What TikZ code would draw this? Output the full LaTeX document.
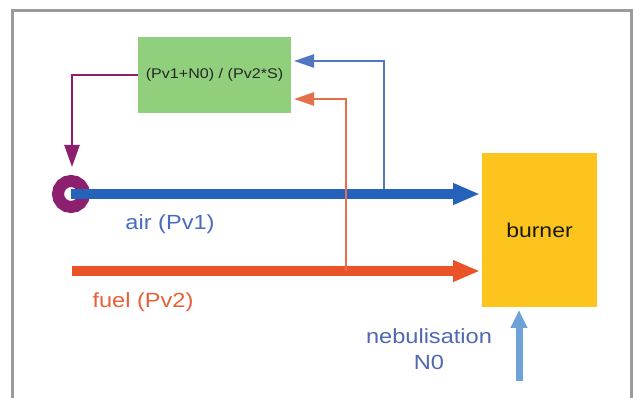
\documentclass[tikz,border=0pt]{standalone}
\usepackage{fontspec}
\setmainfont{Liberation Sans}
\newfontfamily\widesans[FakeStretch=1.15]{Liberation Sans}
\usetikzlibrary{arrows.meta}
\definecolor{framegray}{RGB}{155,155,158}
\definecolor{boxgreen}{RGB}{144,208,124}
\definecolor{burnyellow}{RGB}{252,196,28}
\definecolor{airblue}{RGB}{37,99,186}
\definecolor{fbblue}{RGB}{80,118,196}
\definecolor{fuelorange}{RGB}{234,82,40}
\definecolor{fborange}{RGB}{228,112,76}
\definecolor{ringpurple}{RGB}{140,32,110}
\definecolor{nebblue}{RGB}{110,162,216}
\definecolor{airtext}{RGB}{74,108,190}
\definecolor{fueltext}{RGB}{232,96,56}
\definecolor{nebtext}{RGB}{80,104,176}
\tikzset{
  thinflow/.style={line width=2.5pt,-{Triangle[length=20pt,width=13pt]}},
  thickflow/.style={line width=10pt,-{Triangle[length=27pt,width=20pt]}},
  blocklabel/.style={font=\widesans\fontsize{20.5}{26}\selectfont, inner sep=0pt},
}
\begin{document}
\begin{tikzpicture}[x=1pt,y=-1pt]
\useasboundingbox (0,0) rectangle (633,398);
\fill[white] (0,0) rectangle (633,398);
% frame
\draw[framegray,line width=3pt] (12.5,400) -- (12.5,10.5) -- (631,10.5) -- (631,400);

% blocks
\node[fill=boxgreen, minimum width=153pt, minimum height=76pt, inner sep=0pt,
      font=\widesans\fontsize{14}{16}\selectfont, text=black!85] (calc) at (214.5,75) {(Pv1+N0) / (Pv2*S)};
\node[fill=burnyellow, minimum width=115pt, minimum height=154pt, inner sep=0pt,
      font=\widesans\fontsize{20}{24}\selectfont, text=black!90] (burner) at (539.5,230) {burner};

% coordinates
\coordinate (ring) at (71,194);
\coordinate (airend) at (480,194);
\coordinate (fuelstart) at (72,271);
\coordinate (fuelend) at (480,271);
\coordinate (airtap) at (384,194);
\coordinate (fueltap) at (346,271);
\coordinate (airin) at (294,61);
\coordinate (fuelin) at (294,99);
\coordinate (pcorner) at (72,75);
\coordinate (ringtop) at (72,167);
\coordinate (nebstart) at (519,381);
\coordinate (nebend) at (519,310);

% purple control line and valve ring
\draw[ringpurple, line width=2.5pt, -{Triangle[length=22pt,width=15pt]}]
  (calc.west) -- (pcorner) -- (ringtop);
\draw[ringpurple, line width=12pt] (ring) circle[radius=13pt];

% blue feedback
\draw[fbblue, thinflow] (airtap) |- (airin);
% air flow
\draw[airblue, thickflow] (ring) -- (airend);
% fuel flow
\draw[fuelorange, thickflow] (fuelstart) -- (fuelend);
% orange feedback
\draw[fborange, thinflow] (fueltap) |- (fuelin);

% nebulisation
\draw[nebblue, line width=7pt, -{Triangle[length=18pt,width=16pt]}] (nebstart) -- (nebend);

% labels
\node[blocklabel, text=airtext] (airlbl) at (170,224) {air (Pv1)};
\node[blocklabel, text=fueltext] (fuellbl) at (143,302) {fuel (Pv2)};
\node[blocklabel, text=nebtext, align=center] (neblbl) at (429,349) {nebulisation\\N0};
\end{tikzpicture}
\end{document}
